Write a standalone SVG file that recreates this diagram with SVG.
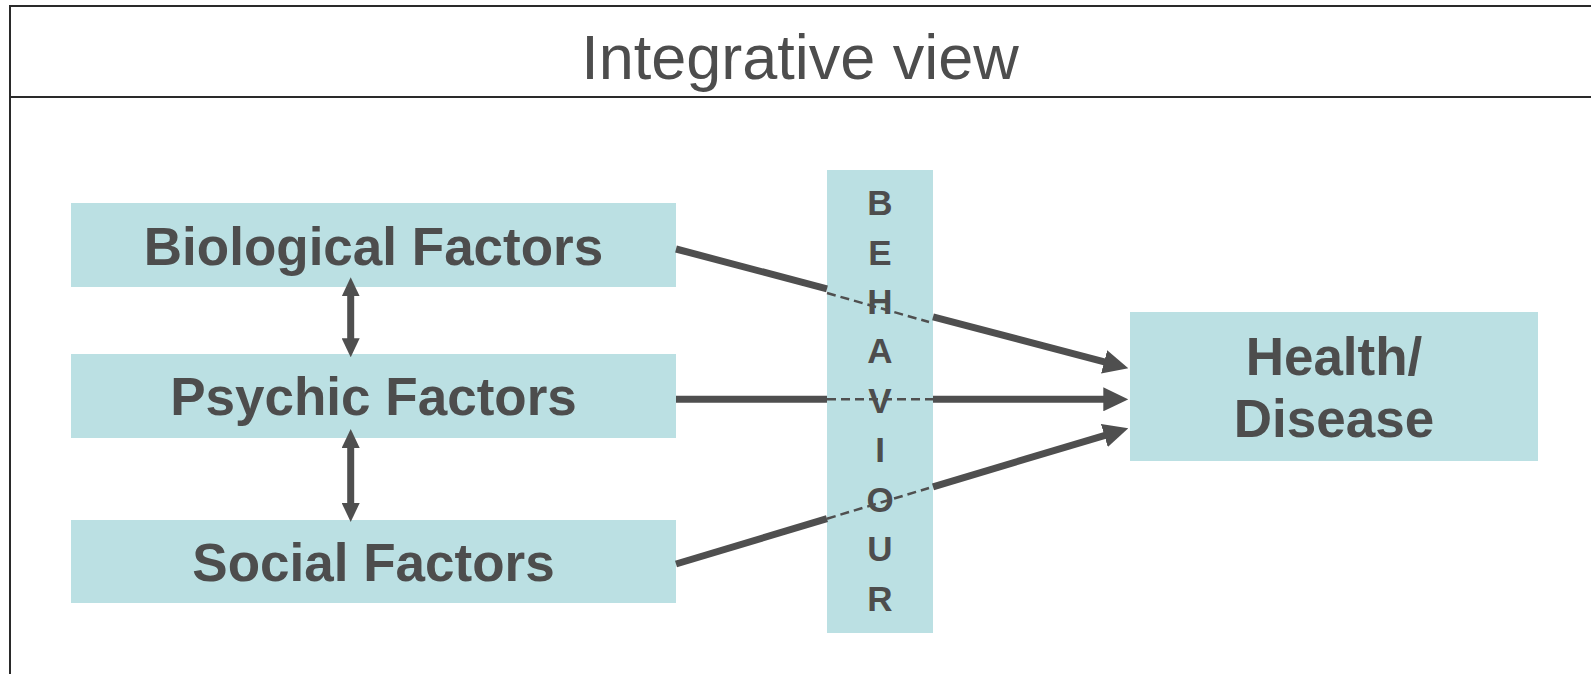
<svg xmlns="http://www.w3.org/2000/svg" width="1591" height="674" viewBox="0 0 1591 674">
<style>
.box{fill:#bbe0e3}
.lbl{font-family:"Liberation Sans",Arial,sans-serif;font-weight:bold;fill:#4d4d4d;text-anchor:middle}
.frame{fill:none;stroke:#2a2a2a;stroke-width:2}
.thick{stroke:#4f4f4f;stroke-width:7;fill:none}
.dash{stroke:#4f4f4f;stroke-width:2.5;stroke-dasharray:9 5;fill:none}
.dbl{stroke:#4f4f4f;stroke-width:7;fill:none}
</style>
<defs>
<marker id="ah" markerUnits="userSpaceOnUse" markerWidth="25" markerHeight="24" refX="13" refY="12" orient="auto" viewBox="0 0 25 24">
<path d="M0,0 L25,12 L0,24 z" fill="#4f4f4f"/>
</marker>
<marker id="dh" markerUnits="userSpaceOnUse" markerWidth="19" markerHeight="18" refX="10" refY="9" orient="auto-start-reverse" viewBox="0 0 19 18">
<path d="M0,0 L19,9 L0,18 z" fill="#4f4f4f"/>
</marker>
</defs>
<rect width="1591" height="674" fill="#ffffff"/>
<g id="frame">
<rect class="frame" x="10" y="6" width="1590" height="680"/>
<line class="frame" x1="10" y1="97" x2="1591" y2="97"/>
<text x="800" y="79" font-family="Liberation Sans, Arial, sans-serif" font-size="63" fill="#4d4d4d" text-anchor="middle">Integrative view</text>
</g>
<g id="bio">
<rect class="box" x="71" y="203" width="605" height="84"/>
<text class="lbl" x="373.5" y="265" font-size="53">Biological Factors</text>
</g>
<g id="psy">
<rect class="box" x="71" y="354" width="605" height="84"/>
<text class="lbl" x="373.5" y="415" font-size="53">Psychic Factors</text>
</g>
<g id="soc">
<rect class="box" x="71" y="520" width="605" height="83"/>
<text class="lbl" x="373.5" y="581" font-size="53">Social Factors</text>
</g>
<g id="behaviour">
<rect class="box" x="827" y="170" width="106" height="463"/>
<g class="lbl" font-size="35">
<text x="880" y="215">B</text>
<text x="880" y="264.5">E</text>
<text x="880" y="314">H</text>
<text x="880" y="363.4">A</text>
<text x="880" y="412.8">V</text>
<text x="880" y="462.3">I</text>
<text x="880" y="511.7">O</text>
<text x="880" y="561.2">U</text>
<text x="880" y="610.6">R</text>
</g>
</g>
<g id="health">
<rect class="box" x="1130" y="312" width="408" height="149"/>
<text class="lbl" x="1334" y="375" font-size="53">Health/</text>
<text class="lbl" x="1334" y="437" font-size="53">Disease</text>
</g>
<g id="connectors">
<line class="thick" x1="676" y1="249" x2="827" y2="288.9"/>
<line class="thick" x1="933" y1="316.8" x2="1116.7" y2="365.2" marker-end="url(#ah)"/>
<line class="dash" x1="827" y1="293" x2="929" y2="322"/>
<line class="thick" x1="676" y1="399.3" x2="827" y2="399.3"/>
<line class="thick" x1="933" y1="399.3" x2="1116.3" y2="399.3" marker-end="url(#ah)"/>
<line class="dash" x1="827" y1="399.3" x2="933" y2="399.3"/>
<line class="thick" x1="676" y1="564" x2="827" y2="518.7"/>
<line class="thick" x1="933" y1="486.8" x2="1116.8" y2="431.8" marker-end="url(#ah)"/>
<line class="dash" x1="827" y1="518.7" x2="929" y2="488"/>
<line class="dbl" x1="350.7" y1="286.3" x2="350.7" y2="348.3" marker-start="url(#dh)" marker-end="url(#dh)"/>
<line class="dbl" x1="350.7" y1="438" x2="350.7" y2="513" marker-start="url(#dh)" marker-end="url(#dh)"/>
</g>
</svg>
